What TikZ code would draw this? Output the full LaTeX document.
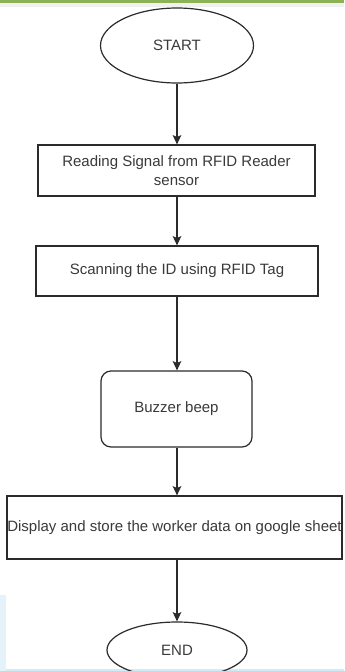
\documentclass[tikz,border=0pt]{standalone}
\usepackage{fontspec}
\setmainfont{Liberation Sans}
\usetikzlibrary{shapes.geometric,arrows.meta}
\definecolor{linegray}{HTML}{2B2B2B}
\definecolor{textgray}{HTML}{3A3A3A}
\definecolor{topgreen}{HTML}{8DB255}
\definecolor{stripgray}{HTML}{F1F1F1}
\definecolor{edgeblue}{HTML}{D3EAF7}
\begin{document}
\begin{tikzpicture}[x=0.75pt,y=-0.75pt,
  base/.style={draw=linegray, line width=0.9pt, text=textgray,
    font=\fontsize{11.25}{14.25}\selectfont, align=center, inner sep=0pt},
  terminal/.style={base, ellipse},
  procbox/.style={base, rectangle},
  roundbox/.style={base, rectangle, rounded corners=7.5pt},
  flow/.style={draw=linegray, line width=0.9pt, -{Stealth[length=7pt,width=6.5pt,inset=1.5pt]}}
]
\useasboundingbox (0,0) rectangle (344,671);
\clip (0,0) rectangle (344,671);
\fill[white] (0,0) rectangle (344,671);
% top strips
\fill[stripgray] (0,2.5) rectangle (344,7);
\fill[topgreen] (0,0) rectangle (344,2.8);
% bottom edge strip and left faint mark
\fill[edgeblue] (0,669) rectangle (344,671);
\fill[edgeblue!60] (0,595) rectangle (6,671);

\node[terminal, minimum width=114.75pt, minimum height=56.25pt] (start) at (177,45.5) {START};
\node[procbox, minimum width=207.75pt, minimum height=38.25pt] (read) at (176.5,170.5) {Reading Signal from RFID Reader\\sensor};
\node[procbox, minimum width=211.5pt, minimum height=37.5pt] (scan) at (177,271) {Scanning the ID using RFID Tag};
\node[roundbox, minimum width=113.25pt, minimum height=57pt] (buzz) at (176.5,409) {Buzzer beep};
\node[procbox, minimum width=251.25pt, minimum height=47.25pt] (disp) at (174.5,527.5) {Display and store the worker data on google sheet};
\node[terminal, minimum width=105pt, minimum height=42pt] (end) at (177,650) {END};

\draw[flow] (start.south) -- (start.south |- read.north);
\draw[flow] (read.south -| start.south) -- (start.south |- scan.north);
\draw[flow] (scan.south -| start.south) -- (start.south |- buzz.north);
\draw[flow] (buzz.south -| start.south) -- (start.south |- disp.north);
\draw[flow] (disp.south -| start.south) -- (end.north);
\end{tikzpicture}
\end{document}
